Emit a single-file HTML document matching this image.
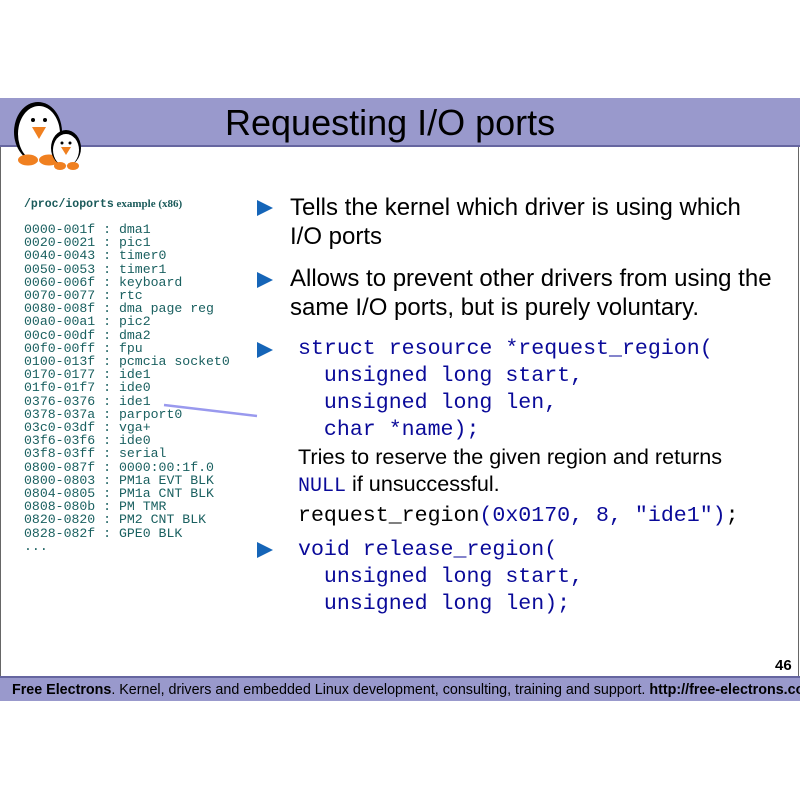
<!DOCTYPE html>
<html><head><style>
body{margin:0;width:800px;height:800px;background:#fff;position:relative;overflow:hidden;font-family:"Liberation Sans",sans-serif}
.abs{position:absolute;white-space:pre}
.mono{font-family:"Liberation Mono",monospace}
.bul{position:absolute;width:0;height:0;border-top:8px solid transparent;border-bottom:8px solid transparent;border-left:16px solid #1565b8}
.c{color:#0a0a99}
</style></head><body>
<div style="position:absolute;left:0;top:98px;width:800px;height:47px;background:#9999cc"></div>
<div style="position:absolute;left:0;top:145px;width:800px;height:2px;background:#6666a0"></div>
<div style="position:absolute;left:0;top:147px;width:1px;height:530px;background:#666"></div>
<div style="position:absolute;left:798px;top:147px;width:1px;height:530px;background:#666"></div>
<div style="position:absolute;left:0;top:676px;width:800px;height:2px;background:#6666a0"></div>
<div style="position:absolute;left:0;top:678px;width:800px;height:23px;background:#9999cc"></div>
<div class="abs" style="left:225px;top:102px;font-size:36px;color:#000">Requesting I/O ports</div>
<svg style="position:absolute;left:6px;top:100px" width="84" height="70">
<ellipse cx="32" cy="32" rx="24" ry="30" fill="#000"/>
<ellipse cx="33" cy="34" rx="21" ry="28" fill="#fff"/>
<circle cx="27" cy="20" r="2" fill="#000"/><circle cx="39" cy="20" r="2" fill="#000"/>
<polygon points="26,27 40,27 33,39" fill="#f08020"/>
<ellipse cx="22" cy="60" rx="10" ry="5.5" fill="#f08020"/><ellipse cx="43" cy="60" rx="10" ry="5.5" fill="#f08020"/>
<ellipse cx="60" cy="48" rx="15" ry="18" fill="#000"/>
<ellipse cx="60" cy="50" rx="13" ry="16" fill="#fff"/>
<circle cx="56" cy="43" r="1.5" fill="#000"/><circle cx="64" cy="43" r="1.5" fill="#000"/>
<polygon points="55,47 65,47 60,55" fill="#f08020"/>
<ellipse cx="54" cy="66" rx="6" ry="4" fill="#f08020"/><ellipse cx="67" cy="66" rx="6" ry="4" fill="#f08020"/>
</svg>
<div class="abs" style="left:24px;top:198px;font-size:11px;color:#1a5a5a;font-weight:bold;font-family:'Liberation Serif',serif"><span class="mono" style="font-size:11.5px">/proc/ioports</span> example (x86)</div>
<div class="abs mono" style="left:24px;top:223px;font-size:13.2px;line-height:13.2px;color:#1a6060">0000-001f : dma1
0020-0021 : pic1
0040-0043 : timer0
0050-0053 : timer1
0060-006f : keyboard
0070-0077 : rtc
0080-008f : dma page reg
00a0-00a1 : pic2
00c0-00df : dma2
00f0-00ff : fpu
0100-013f : pcmcia socket0
0170-0177 : ide1
01f0-01f7 : ide0
0376-0376 : ide1
0378-037a : parport0
03c0-03df : vga+
03f6-03f6 : ide0
03f8-03ff : serial
0800-087f : 0000:00:1f.0
0800-0803 : PM1a EVT BLK
0804-0805 : PM1a CNT BLK
0808-080b : PM TMR
0820-0820 : PM2 CNT BLK
0828-082f : GPE0 BLK
...</div>
<svg style="position:absolute;left:0;top:0" width="800" height="800"><line x1="164" y1="405" x2="257" y2="416" stroke="#9999ee" stroke-width="2.5"/></svg>
<div class="bul" style="left:257px;top:200px"></div>
<div class="bul" style="left:257px;top:272px"></div>
<div class="bul" style="left:257px;top:342px"></div>
<div class="bul" style="left:257px;top:542px"></div>
<div class="abs" style="left:290px;top:193px;font-size:24px;line-height:29px">Tells the kernel which driver is using which
I/O ports</div>
<div class="abs" style="left:290px;top:264px;font-size:24px;line-height:29px">Allows to prevent other drivers from using the
same I/O ports, but is purely voluntary.</div>
<div class="abs mono c" style="left:298px;top:336px;font-size:21.6px;line-height:27px">struct resource *request_region(
  unsigned long start,
  unsigned long len,
  char *name);</div>
<div class="abs" style="left:298px;top:443px;font-size:21.6px;line-height:27px">Tries to reserve the given region and returns
<span class="mono c" style="font-size:20px">NULL</span> if unsuccessful.
<span class="mono" style="font-size:21.6px">request_region<span class="c">(0x0170, 8, "ide1")</span>;</span></div>
<div class="abs mono c" style="left:298px;top:537px;font-size:21.6px;line-height:27px">void release_region(
  unsigned long start,
  unsigned long len);</div>
<div class="abs" style="left:775px;top:657px;font-size:15px;font-weight:bold">46</div>
<div class="abs" style="left:12px;top:682px;font-size:14.3px"><b>Free Electrons</b>. Kernel, drivers and embedded Linux development, consulting, training and support. <b>http://free-electrons.com</b></div>
</body></html>
